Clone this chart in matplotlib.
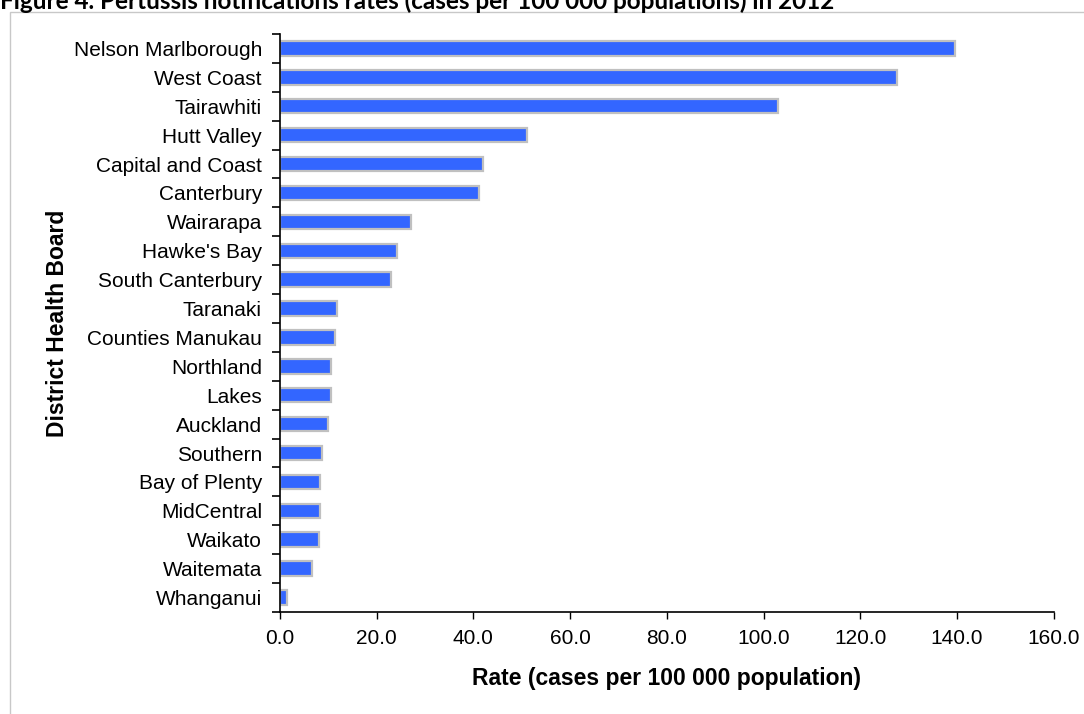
import numpy as np
import matplotlib
matplotlib.use('Agg')
import matplotlib.pyplot as plt
from matplotlib.patches import Rectangle

# dane
boards = ['Nelson Marlborough', 'West Coast', 'Tairawhiti', 'Hutt Valley',
          'Capital and Coast', 'Canterbury', 'Wairarapa', "Hawke's Bay",
          'South Canterbury', 'Taranaki', 'Counties Manukau', 'Northland',
          'Lakes', 'Auckland', 'Southern', 'Bay of Plenty', 'MidCentral',
          'Waikato', 'Waitemata', 'Whanganui']
rates = [139.5, 127.5, 103.0, 51.1, 42.0, 41.1, 27.1, 24.2, 22.9, 11.7,
         11.4, 10.6, 10.5, 9.9, 8.7, 8.3, 8.2, 8.0, 6.6, 1.4]
xticks = [0, 20, 40, 60, 80, 100, 120, 140, 160]

title = 'Figure 4. Pertussis notifications rates (cases per 100 000 populations) in 2012'

plt.rcParams['font.family'] = ['Liberation Sans', 'DejaVu Sans']

fig = plt.figure(figsize=(10.84, 7.14), dpi=100)
ax = fig.add_axes([0.2583, 0.1429, 0.7137, 0.8095])

# ramka wykresu
fig.patches.append(Rectangle((10/1084, -0.05), 1.2, 1 - 12/714 + 0.05,
                             transform=fig.transFigure, fill=False,
                             edgecolor='#c8c8c8', linewidth=1.0))

y = np.arange(len(boards))
ax.barh(y, rates, height=0.5, color='#3366ff', edgecolor='#c0c0c0', linewidth=1.6)

ax.set_xlim(0, 160)
ax.set_ylim(len(boards) - 0.5, -0.5)
ax.set_xticks(xticks)
ax.set_xticklabels(['%.1f' % v for v in xticks], fontsize=15)
ax.set_yticks(y)
ax.set_yticklabels(boards, fontsize=15)
ax.set_yticks(np.arange(len(boards) + 1) - 0.5, minor=True)
ax.tick_params(axis='y', which='major', length=0, pad=13)
ax.tick_params(axis='y', which='minor', length=6, width=1.2, direction='out')
ax.tick_params(axis='x', length=5, width=1.0, direction='out', pad=7)

for s in ['top', 'right']:
    ax.spines[s].set_visible(False)
for s in ['left', 'bottom']:
    ax.spines[s].set_linewidth(1.2)

ax.set_xlabel('Rate (cases per 100 000 population)', fontsize=16.5, fontweight='bold', labelpad=14)
ax.set_ylabel('District Health Board', fontsize=16.5, fontweight='bold', labelpad=3.5)

fig.text(0.0, 1 - 9/714, title, fontsize=17.5, fontweight='bold', family=['Lato', 'DejaVu Sans'],
         va='baseline', ha='left')

fig.savefig('out.png', dpi=100)
